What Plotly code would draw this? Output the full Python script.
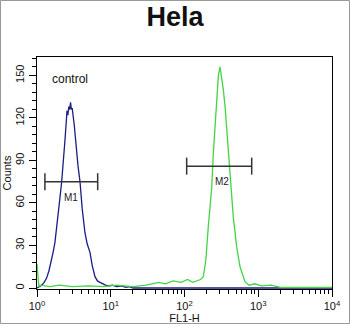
import math
import plotly.graph_objects as go

# ---- data ----
control_x = [1.0, 1.1, 1.16, 1.25, 1.35, 1.45, 1.55, 1.65, 1.75, 1.85, 1.95, 2.05, 2.16, 2.3, 2.4,
             2.5, 2.55, 2.62, 2.7, 2.78, 2.85, 2.92, 3.0, 3.2, 3.4, 3.6, 3.83, 4.1, 4.47, 4.8,
             5.24, 5.6, 6.11, 6.6, 7.15, 7.8, 8.5, 9.5, 10.5, 12, 14, 16, 18, 20, 40, 100, 1000, 10000]
control_y = [0, 1, 2, 4, 7, 12, 18, 25, 32, 42, 52, 64, 75, 90, 105,
             118, 125, 122, 128, 126, 131, 126, 127, 115, 98, 86, 75, 56, 39, 31,
             25, 16, 8, 5, 4, 3, 2, 1.5, 2, 1, 1.5, 0.5, 1, 0, 0, 0, 0, 0]

sample_x = [1.0, 1.03, 1.06, 1.1, 1.5, 2, 3, 5, 8, 12, 20, 30, 37, 45, 55, 70, 90, 110, 130, 150,
            165, 180, 195, 210, 222, 234, 246, 259, 266, 273, 288, 303, 320, 336, 355, 373, 414,
            459, 510, 566, 661, 750, 900, 1100, 1500, 2000, 4000, 10000]
sample_y = [17, 5, 1, 2, 1, 2, 1, 1.5, 1, 2, 1, 2, 3, 4, 3, 5, 4, 6, 4, 5,
            6, 8, 20, 43, 58, 71, 95, 114, 126, 137, 150, 156, 148, 140, 128, 114, 83,
            50, 29, 15, 4.5, 2, 3, 1.5, 2, 0.5, 0.5, 0.5]

marker_names = ["M1", "M2"]
marker_x0 = [1.28, 107]
marker_x1 = [6.65, 815]
marker_y = [75, 86]
marker_label_x = [2.89, 322]
marker_label_y = [64, 75]

x_tickvals = [1, 10, 100, 1000, 10000]
x_ticktext = ["10<sup>0</sup>", "10<sup>1</sup>", "10<sup>2</sup>", "10<sup>3</sup>", "10<sup>4</sup>"]
x_minor = [m * 10 ** d for d in range(4) for m in range(2, 10)]
y_tickvals = [0, 30, 60, 90, 120, 150]

fig = go.Figure()
fig.add_trace(go.Scatter(x=control_x, y=control_y, mode="lines",
                         line=dict(color="#1c1c84", width=1.3), showlegend=False))
fig.add_trace(go.Scatter(x=sample_x, y=sample_y, mode="lines",
                         line=dict(color="#44d444", width=1.3), showlegend=False))

for i in range(len(marker_names)):
    fig.add_trace(go.Scatter(x=[marker_x0[i], marker_x1[i]], y=[marker_y[i], marker_y[i]],
                             mode="lines", line=dict(color="#333333", width=1.5), showlegend=False))
    for xe in (marker_x0[i], marker_x1[i]):
        fig.add_trace(go.Scatter(x=[xe, xe], y=[marker_y[i] - 6, marker_y[i] + 6],
                                 mode="lines", line=dict(color="#333333", width=1.5), showlegend=False))
    fig.add_annotation(x=math.log10(marker_label_x[i]), y=marker_label_y[i], text=marker_names[i],
                       showarrow=False, font=dict(size=10, color="#222222"))

fig.add_annotation(x=0.044, y=0.905, xref="paper", yref="paper", text="control",
                   showarrow=False, xanchor="left", yanchor="middle",
                   font=dict(size=12, color="#111111"))

L, R, T, B = 37, 18, 57, 35
W, H = 350, 324
pw, ph = W - L - R, H - T - B
fig.add_shape(type="rect", xref="paper", yref="paper",
              x0=-(L - 0.5) / pw, x1=1 + (R - 0.5) / pw,
              y0=-(B - 0.5) / ph, y1=1 + (T - 0.5) / ph,
              line=dict(color="#999999", width=1), layer="below")

fig.update_layout(
    width=W, height=H,
    margin=dict(l=L, r=R, t=T, b=B, autoexpand=False),
    paper_bgcolor="white", plot_bgcolor="white",
    font=dict(family="Liberation Sans, Arial, sans-serif", color="#111111"),
    title=dict(text="<b>Hela</b>", x=0.5, xanchor="center", y=1 - 17 / H, yanchor="middle",
               font=dict(size=27, color="#111111")),
)
fig.update_xaxes(type="log", range=[0, 4], showgrid=False, zeroline=False, automargin=False,
                 showline=True, linecolor="black", linewidth=1.3, mirror=True,
                 ticks="outside", ticklen=7, tickcolor="black", tickwidth=1,
                 tickmode="array", tickvals=x_tickvals, ticktext=x_ticktext,
                 tickfont=dict(size=11),
                 minor=dict(ticks="outside", ticklen=4, tickcolor="black", tickwidth=1,
                            tickmode="array", tickvals=x_minor),
                 title=dict(text="FL1-H", font=dict(size=11), standoff=2))
fig.update_yaxes(range=[-0.7, 163], showgrid=False, zeroline=False, automargin=False,
                 showline=True, linecolor="black", linewidth=1.3, mirror=True,
                 ticks="outside", ticklen=7, tickcolor="black", tickwidth=1,
                 tickmode="array", tickvals=y_tickvals, tickangle=-90,
                 tickfont=dict(size=11),
                 minor=dict(ticks="outside", ticklen=4, tickcolor="black", tickwidth=1, dtick=6),
                 title=dict(text="Counts", font=dict(size=11), standoff=0))

fig.write_html("out.html")
